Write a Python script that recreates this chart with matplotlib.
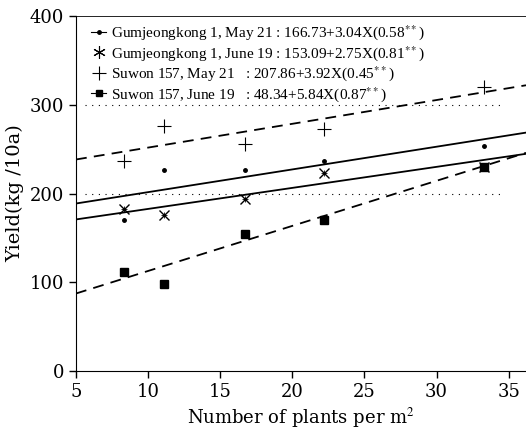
import matplotlib.pyplot as plt
from matplotlib.lines import Line2D

plt.rcParams['font.family'] = ['DejaVu Serif']
plt.rcParams['mathtext.fontset'] = 'stix'

# plant density (plants per m2)
density = [8.3, 11.1, 16.7, 22.2, 33.3]

# yield (kg/10a)
gum_may = [170, 226, 226, 237, 254]
gum_june = [183, 176, 194, 223, 230]
suw_may = [237, 276, 256, 273, 320]
suw_june = [112, 98, 155, 170, 230]

# regression lines as drawn (intercept, slope)
line_int = [176, 159, 225, 62]
line_slope = [2.56, 2.37, 2.68, 5.08]
line_style = ['-', '-', '--', '--']

labels = [
    r'Gumjeongkong 1, May 21 : 166.73+3.04X(0.58$^{**}$)',
    r'Gumjeongkong 1, June 19 : 153.09+2.75X(0.81$^{**}$)',
    r'Suwon 157, May 21   : 207.86+3.92X(0.45$^{**}$)',
    r'Suwon 157, June 19   : 48.34+5.84X(0.87$^{**}$)',
]

fig = plt.figure(figsize=(5.26, 4.46), dpi=100)
ax = fig.add_axes([0.1445, 0.168, 0.8555, 0.796])

xmin, xmax = 5, 36.2
for b0, b1, ls in zip(line_int, line_slope, line_style):
    ax.plot([xmin, xmax], [b0 + b1 * xmin, b0 + b1 * xmax], ls, color='black',
            lw=1.3, dashes=(6, 4) if ls == '--' else (None, None))

ax.plot(density, gum_may, 'o', color='black', ms=2.5)
ax.plot(density, gum_june, 'x', color='black', ms=7, mew=1.0)
ax.plot(density, gum_june, '+', color='black', ms=4, mew=0.6)
ax.plot(density, suw_may, '+', color='black', ms=10, mew=0.8)
ax.plot(density, suw_june, 's', color='black', ms=5.5)

for yv in [200, 300]:
    ax.axhline(yv, xmin=0.02, xmax=0.95, color='black', ls=(0, (1, 5)), lw=0.8)

handles = [
    Line2D([], [], color='black', marker='o', ms=2.5, lw=0.8),
    Line2D([], [], color='black', marker=(6, 2, 0), ms=9, lw=0, mew=0.8),
    Line2D([], [], color='black', marker='+', ms=10, lw=0, mew=0.8),
    Line2D([], [], color='black', marker='s', ms=4, lw=0.8),
]
ax.legend(handles, labels, loc='upper left', bbox_to_anchor=(0.01, 1.01),
          frameon=False, prop={'family': 'Liberation Serif', 'size': 11},
          handlelength=1.0, handletextpad=0.3,
          labelspacing=0.1, borderaxespad=0.3)

ax.set_xlim(xmin, xmax)
ax.set_ylim(0, 400)
ax.set_xticks([5, 10, 15, 20, 25, 30, 35])
ax.set_yticks([0, 100, 200, 300, 400])
ax.tick_params(labelsize=13, direction='out', length=5, width=1)
ax.spines['right'].set_visible(False)
ax.spines['top'].set_linewidth(0.6)
ax.set_xlabel('Number of plants per m$^2$', fontsize=13)
ax.set_ylabel('Yield(kg /10a)', fontsize=14)

fig.savefig('out.png', dpi=100)
